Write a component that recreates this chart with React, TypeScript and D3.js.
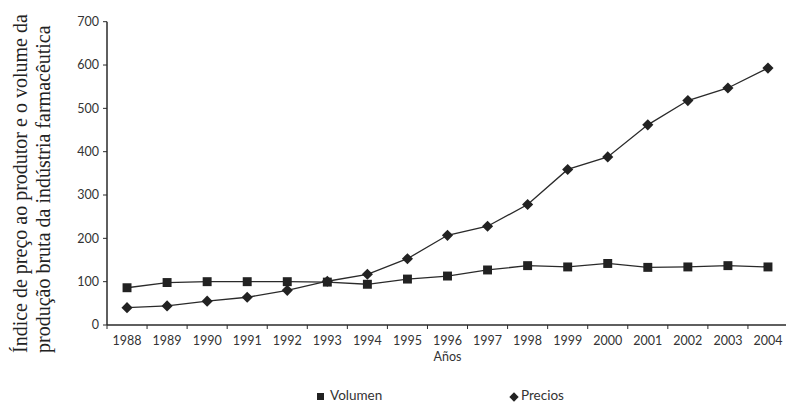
import React from "react";
import * as d3 from "d3";

const years = ["1988","1989","1990","1991","1992","1993","1994","1995","1996","1997","1998","1999","2000","2001","2002","2003","2004"];
const volumen = [86, 98, 100, 100, 100, 99, 94, 106, 113, 127, 137, 134, 142, 133, 134, 137, 134];
const precios = [40, 44, 55, 64, 80, 101, 117, 153, 207, 228, 278, 359, 388, 462, 518, 547, 593];
const yTicks = [0, 100, 200, 300, 400, 500, 600, 700];
const titleLines = ["Índice de preço ao produtor e o volume da", "produção bruta da indústria farmacêutica"];

const W = 786, H = 403;
const left = 107, right = 788, top = 21.7, bottom = 325;
const INK = "#2a2a2a";
const FONT = "Lato, 'Open Sans', sans-serif";

export default function App() {
  const x = d3.scaleBand<string>().domain(years).range([left, right]).padding(0);
  const y = d3.scaleLinear().domain([0, 700]).range([bottom, top]);
  const cx = (d: string) => (x(d) as number) + x.bandwidth() / 2;
  const line = d3.line<number>().x((_, i) => cx(years[i])).y((v) => y(v));
  const sq = d3.symbol().type(d3.symbolSquare).size(80)() as string;
  const dm = d3.symbol().type(d3.symbolSquare).size(62)() as string;
  const boundaries = years.map((d) => x(d) as number).concat([right]);

  return (
    <svg width={W} height={H} style={{ position: "absolute", left: 0, top: 0, background: "#fff" }}>
      <g fill="#222" fontFamily="'Liberation Serif', 'Times New Roman', serif" fontSize={20}>
        <text transform={`translate(27,353) rotate(-90)`} textAnchor="start">{titleLines[0]}</text>
        <text transform={`translate(50,353) rotate(-90)`} textAnchor="start">{titleLines[1]}</text>
      </g>
      {/* y axis */}
      <line x1={left} x2={left} y1={y(700)} y2={bottom} stroke={INK} strokeWidth={1.5} />
      {yTicks.map((t) => (
        <g key={t}>
          <line x1={left - 4} x2={left} y1={y(t)} y2={y(t)} stroke={INK} strokeWidth={1} />
          <text x={left - 8} y={y(t)} dy="0.35em" textAnchor="end" fontFamily={FONT} fontSize={12.5} fill="#333">{t}</text>
        </g>
      ))}
      {/* x axis */}
      <line x1={left} x2={right} y1={bottom} y2={bottom} stroke={INK} strokeWidth={1.5} />
      {boundaries.map((b, i) => (
        <line key={i} x1={b} x2={b} y1={bottom} y2={bottom + 4} stroke={INK} strokeWidth={1} />
      ))}
      {years.map((d) => (
        <text key={d} x={cx(d)} y={345} textAnchor="middle" fontFamily={FONT} fontSize={12.5} fill="#333">{d}</text>
      ))}
      <text x={(left + right) / 2} y={361} textAnchor="middle" fontFamily={FONT} fontSize={12.5} fill="#333">Años</text>
      {/* series */}
      <path d={line(volumen) as string} fill="none" stroke={INK} strokeWidth={1.3} />
      <path d={line(precios) as string} fill="none" stroke={INK} strokeWidth={1.3} />
      {volumen.map((v, i) => (
        <path key={"v" + i} d={sq} transform={`translate(${cx(years[i])},${y(v)})`} fill="#222" />
      ))}
      {precios.map((v, i) => (
        <path key={"p" + i} d={dm} transform={`translate(${cx(years[i])},${y(v)}) rotate(45)`} fill="#222" />
      ))}
      {/* legend */}
      <path d={d3.symbol().type(d3.symbolSquare).size(49)() as string} transform="translate(320.5,396.5)" fill="#222" />
      <text x={330} y={400} fontFamily={FONT} fontSize={13.5} fill="#333">Volumen</text>
      <path d={d3.symbol().type(d3.symbolSquare).size(44)() as string} transform="translate(514,397) rotate(45)" fill="#222" />
      <text x={521} y={400} fontFamily={FONT} fontSize={13.5} fill="#333">Precios</text>
    </svg>
  );
}
